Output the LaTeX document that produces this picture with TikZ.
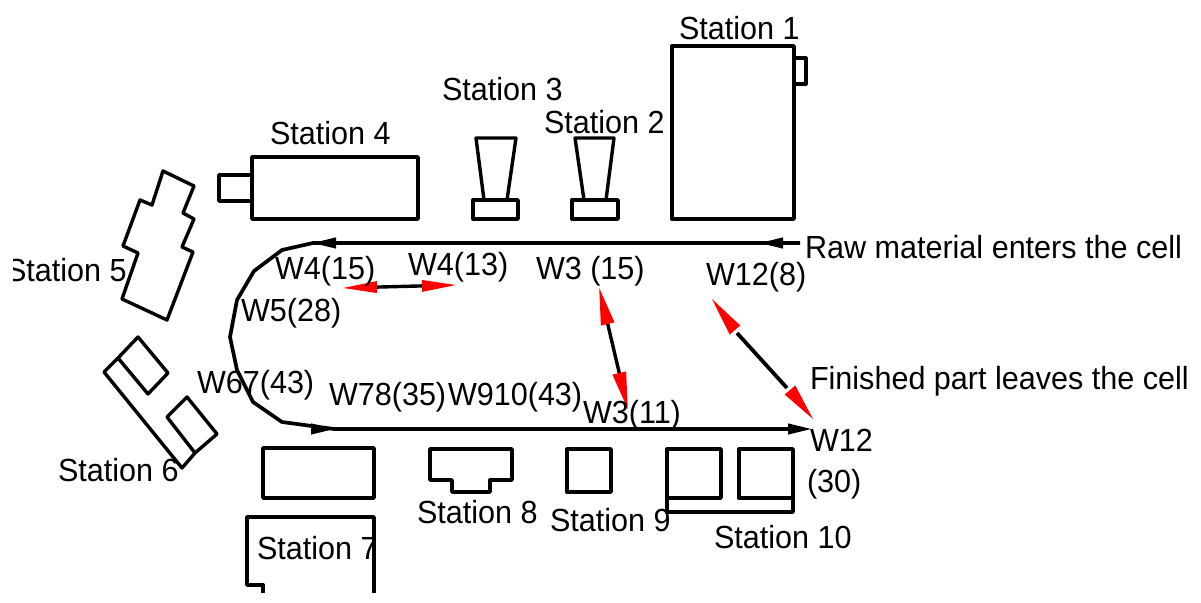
\documentclass[tikz,border=0pt]{standalone}
\usepackage{fontspec}
\setmainfont[FakeStretch=0.955]{Liberation Sans}
\usetikzlibrary{arrows.meta}
\tikzset{
  x=1pt,y=-1pt,
  machine/.style={draw=black,line width=3.4pt,line join=round,line cap=round},
  route/.style={draw=black,line width=3.7pt,line join=round},
  lab/.style={anchor=base west,inner sep=0pt,outer sep=0pt,font=\fontsize{32}{38}\selectfont,text=black},
  blacktip/.style={-{Triangle[black,length=23pt,width=11pt]},line width=1pt},
  redline/.style={draw=black,line width=3.4pt},
  redA/.style={{Triangle[red,length=35pt,width=11pt]}-{Triangle[red,length=35pt,width=11pt]}},
  redB/.style={{Triangle[red,length=38pt,width=13pt]}-{Triangle[red,length=38pt,width=13pt]}},
  redhead/.style={fill=red,draw=none},
}
\begin{document}
\begin{tikzpicture}
\useasboundingbox (0,0) rectangle (1201,602);
\begin{scope}
\clip (13,0) rectangle (1201,592);
% station 1
\draw[machine] (672,46) rectangle (794,219);
\draw[machine,line width=3.2pt] (794,58) -- (806,58) -- (806,84) -- (794,84);
% station 3
\draw[machine] (484,200) -- (476,138) -- (516,138) -- (507,200);
\draw[machine] (473,200) rectangle (518,219);
% station 2
\draw[machine] (584,200) -- (575,138) -- (614,138) -- (606,200);
\draw[machine] (572,200) rectangle (618,219);
% station 4
\draw[machine] (252,157) rectangle (418,219);
\draw[machine] (252,175) -- (219,175) -- (219,201) -- (252,201);
% station 5
\draw[machine] (163,171) -- (194,186) -- (183,213) -- (194,219) -- (182,247) -- (193,252) -- (167,320) -- (122,299) -- (138,253) -- (123,246) -- (140,200) -- (152,205) -- cycle;
% station 6
\draw[machine] (118,358) -- (138,337) -- (168,373) -- (148,394) -- cycle;
\draw[machine] (118,358) -- (104,372) -- (182,468) -- (195,453) -- (167,417) -- (187,397) -- (217,434) -- (195,453);
% station 7
\draw[machine] (263,448) rectangle (374,498);
\draw[machine] (263,600) -- (263,585) -- (247,585) -- (247,517) -- (374,517) -- (374,600);
% station 8
\draw[machine] (430,449) -- (512,449) -- (512,480) -- (490,480) -- (490,492) -- (452,492) -- (452,480) -- (430,480) -- cycle;
% station 9
\draw[machine] (567,449) rectangle (611,492);
% station 10
\draw[machine] (667,449) rectangle (721,498);
\draw[machine] (739,449) rectangle (793,498);
\draw[machine] (667,498) -- (667,512) -- (793,512) -- (793,498);
% route
\coordinate (rawStart) at (800,243);
\coordinate (rawTip) at (760,243);
\coordinate (rawBack) at (783,243);
\coordinate (topTip) at (313,243);
\coordinate (topBack) at (336,243);
\coordinate (botBack) at (311,429);
\coordinate (botTip) at (334,429);
\coordinate (endBack) at (788,429);
\coordinate (endTip) at (811,429);
\draw[route] (rawStart) -- (topTip) -- (282,250) -- (254,271) -- (237,300) -- (230,337) -- (237,370) -- (253,402) -- (282,422) -- (botTip) -- (endBack);
\draw[blacktip] (rawBack) -- (rawTip);
\draw[blacktip] (topBack) -- (topTip);
\draw[blacktip] (botBack) -- (botTip);
\draw[blacktip] (endBack) -- (endTip);
% red arrows
\coordinate (a1) at (342,288); \coordinate (a2) at (457,285);
\coordinate (b1) at (599,287); \coordinate (b2) at (628,410);
\coordinate (c1) at (712,299); \coordinate (c2) at (813,419);
\coordinate (c3) at (737,333); \coordinate (c4) at (787,388);
\draw[redline,redA] (a1) -- (a2);
\draw[redline,redB] (b1) -- (b2);
\draw[redline,line width=3.8pt] (c3) -- (c4);
\fill[redhead] (c1) -- (740.3,325.5) -- (729.7,334.5) -- cycle;
\fill[redhead] (c2) -- (795.3,385.5) -- (784.7,394.5) -- cycle;
% labels
\node[lab] (s1) at (679,40) {Station 1};
\node[lab] (s2) at (544,133) {Station 2};
\node[lab] (s3) at (442,100) {Station 3};
\node[lab] (s4) at (270,144) {Station 4};
\node[lab] (s5) at (6,281) {Station 5};
\node[lab] (s6) at (58,481) {Station 6};
\node[lab] (s7) at (257,559) {Station 7};
\node[lab] (s8) at (417,523) {Station 8};
\node[lab] (s9) at (550,531) {Station 9};
\node[lab] (s10) at (714,548) {Station 10};
\node[lab] (raw) at (805,258) {Raw material enters the cell};
\node[lab] (fin) at (810,389) {Finished part leaves the cell};
\node[lab] (l1) at (275,279) {W4(15)};
\node[lab] (l2) at (408,275) {W4(13)};
\node[lab] (l3) at (536,279) {W3 (15)};
\node[lab] (l4) at (706,285) {W12(8)};
\node[lab] (l5) at (241,321) {W5(28)};
\node[lab] (l6) at (197,393) {W67(43)};
\node[lab] (l7) at (329,405) {W78(35)};
\node[lab] (l8) at (448,405) {W910(43)};
\node[lab] (l9) at (583,423) {W3(11)};
\node[lab] (l10) at (810,451) {W12};
\node[lab] (l11) at (807,492) {(30)};
\end{scope}
\end{tikzpicture}
\end{document}
